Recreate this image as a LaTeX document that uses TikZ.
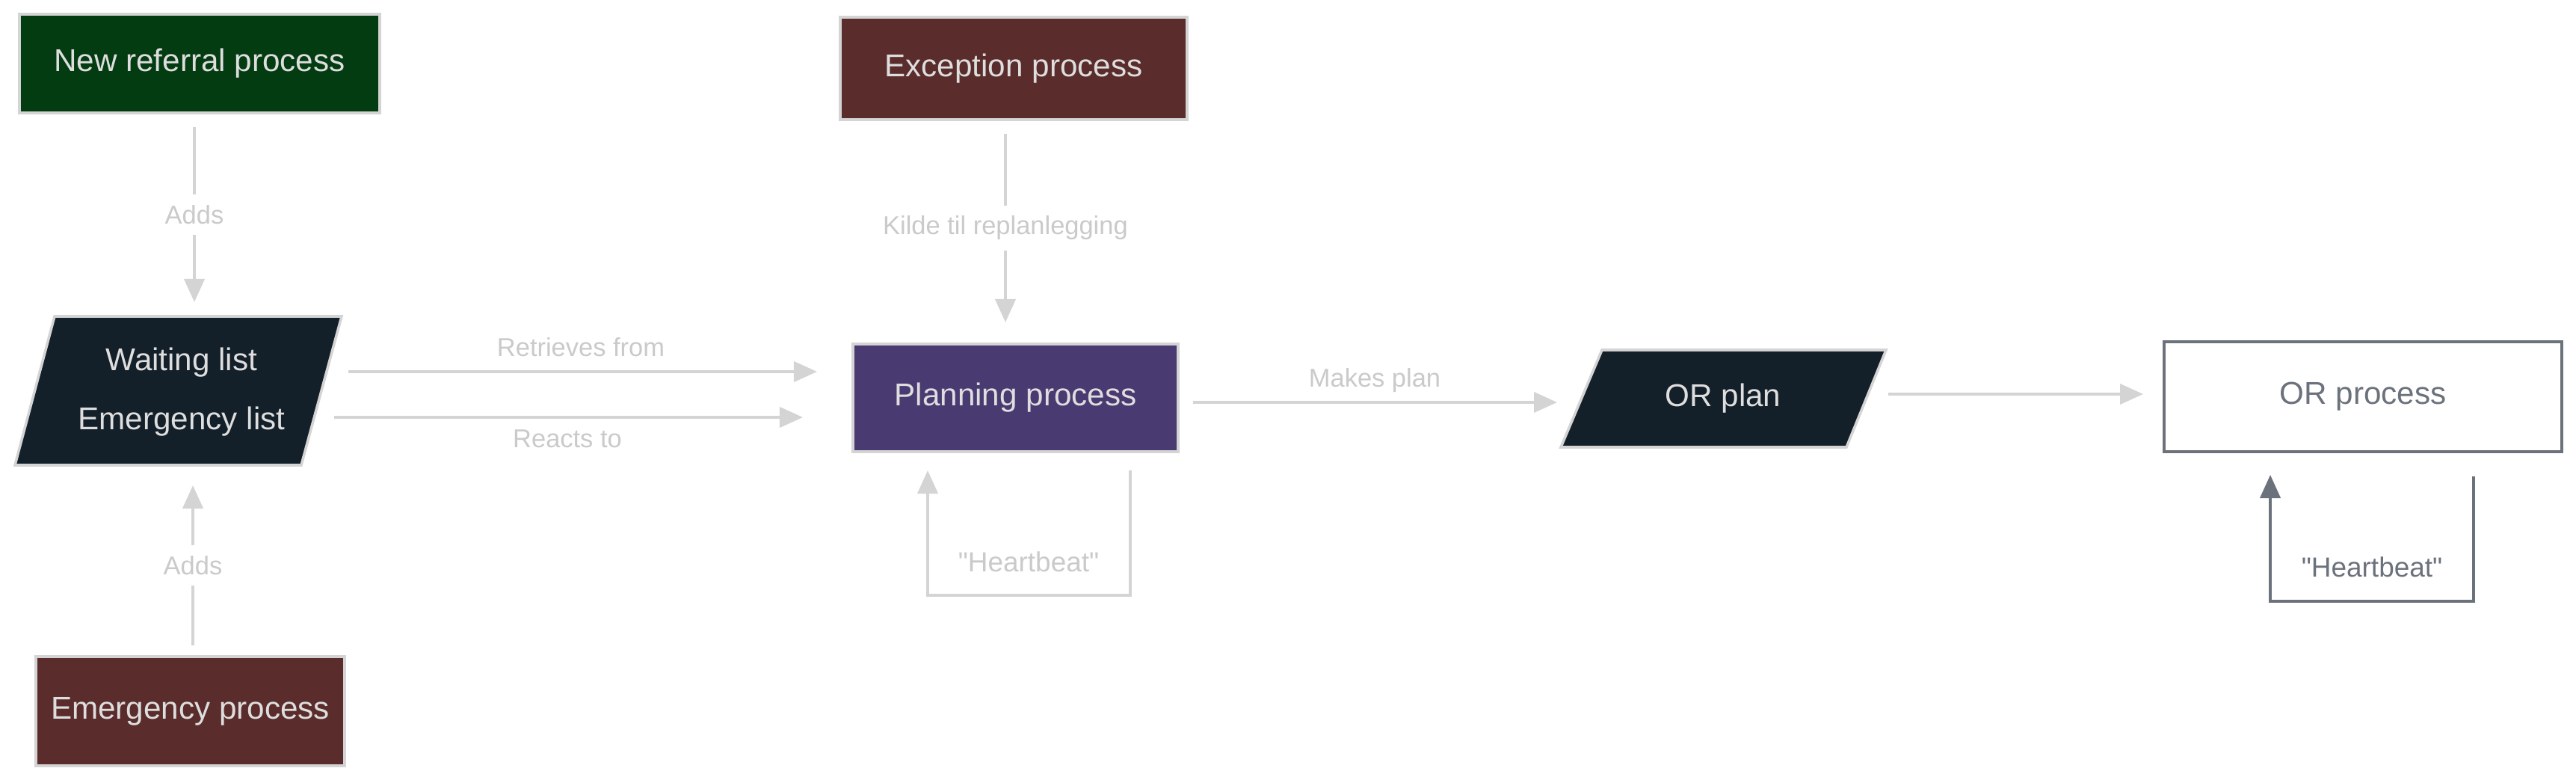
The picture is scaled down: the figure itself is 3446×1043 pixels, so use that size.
\documentclass[tikz,border=0pt]{standalone}
\usepackage{fontspec}
\setmainfont{Liberation Sans}[Ligatures=TeXOff]
\usetikzlibrary{arrows.meta}
\definecolor{cgreen}{HTML}{043C12}
\definecolor{cmaroon}{HTML}{5B2C2C}
\definecolor{cpurple}{HTML}{4A3A72}
\definecolor{cnavy}{HTML}{131F29}
\definecolor{cstroke}{HTML}{D4D4D4}
\definecolor{clabel}{HTML}{CACACA}
\definecolor{ctext}{HTML}{DEDEDE}
\definecolor{cgray}{HTML}{6C727C}
\tikzset{
  procbox/.style={draw=cstroke, line width=1pt, inner sep=0pt, text=ctext,
    font=\fontsize{12}{14}\selectfont},
  boxtext/.style={text=ctext, font=\fontsize{12}{14}\selectfont, inner sep=0pt},
  conn/.style={draw=cstroke, line width=1.1pt,
    -{Triangle[length=0.31cm,width=0.27cm]}},
  lbl/.style={text=clabel, font=\fontsize{9.8}{12}\selectfont, inner sep=2pt},
  gapl/.style={lbl, fill=white, inner sep=4pt},
}
\begin{document}
\begin{tikzpicture}[x=0.01cm,y=-0.01cm]
\useasboundingbox[fill=white] (0,0) rectangle (3446,1043);

% rectangles
\node[procbox, fill=cgreen, minimum width=4.82cm, minimum height=1.32cm] (newref) at (267,85) {New referral process};
\node[procbox, fill=cmaroon, minimum width=4.64cm, minimum height=1.37cm] (exc) at (1356,91.5) {Exception process};
\node[procbox, fill=cpurple, minimum width=4.35cm, minimum height=1.44cm] (plan) at (1358.5,532) {Planning process};
\node[procbox, fill=cmaroon, minimum width=4.13cm, minimum height=1.46cm] (emerg) at (254.5,951) {Emergency process};
\node[procbox, draw=cgray, fill=white, text=cgray, minimum width=5.32cm, minimum height=1.47cm] (orproc) at (3161,530.5) {OR process};

% parallelograms
\path[fill=cnavy, draw=cstroke, line width=1pt] (73,423) -- (457,423) -- (403,622) -- (20,622) -- cycle;
\node[boxtext, align=center, font=\fontsize{12}{22.5}\selectfont] (wl) at (243,524) {Waiting list\\Emergency list};
\path[fill=cnavy, draw=cstroke, line width=1pt] (2143,468) -- (2523,468) -- (2470,598) -- (2088,598) -- cycle;
\node[boxtext] (orplan) at (2305,533) {OR plan};

% connector end points
\coordinate (a1s) at (260,170);   \coordinate (a1e) at (260,404);
\coordinate (a2s) at (258,863);   \coordinate (a2e) at (258,649);
\coordinate (rfs) at (466,497);   \coordinate (rfe) at (1093,497);
\coordinate (rts) at (447,558);   \coordinate (rte) at (1074,558);
\coordinate (kts) at (1345,179);  \coordinate (kte) at (1345,431);
\coordinate (mps) at (1596,538);  \coordinate (mpe) at (2083,538);
\coordinate (ops) at (2526,527);  \coordinate (ope) at (2867,527);
\coordinate (h1s) at (1512,629);  \coordinate (h1e) at (1241,629);
\coordinate (h2s) at (3309,637);  \coordinate (h2e) at (3037,635);

% connectors
\draw[conn] (a1s) -- node[gapl] (l1) {Adds} (a1e);
\draw[conn] (a2s) -- node[gapl] (l2) {Adds} (a2e);
\draw[conn] (rfs) -- (rfe);
\node[lbl] (lrf) at (777,464) {Retrieves from};
\draw[conn] (rts) -- (rte);
\node[lbl] (lrt) at (759,587) {Reacts to};
\draw[conn] (kts) -- node[gapl] (lk) {Kilde til replanlegging} (kte);
\draw[conn] (mps) -- (mpe);
\node[lbl] (lmp) at (1839,509) {Makes plan};
\draw[conn] (ops) -- (ope);
\draw[conn] (h1s) -- (h1s |- 0,796) -- (h1e |- 0,796) -- (h1e);
\node[lbl, font=\fontsize{10.5}{12}\selectfont] (lh1) at (1376,751) {"Heartbeat"};
\draw[conn, draw=cgray] (h2s) -- (h2s |- 0,804) -- (h2e |- 0,804) -- (h2e);
\node[lbl, text=cgray, font=\fontsize{10.5}{12}\selectfont] (lh2) at (3173,758) {"Heartbeat"};
\end{tikzpicture}
\end{document}
